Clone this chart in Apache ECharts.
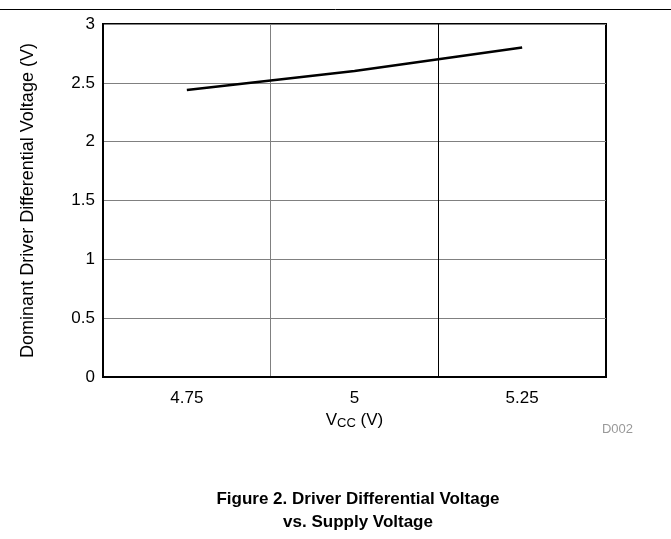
<!DOCTYPE html>
<html><head><meta charset="utf-8">
<script src="https://cdn.jsdelivr.net/npm/echarts@6/dist/echarts.min.js"></script>
<style>html,body{margin:0;padding:0;background:#fff}#c{width:671px;height:539px}</style>
</head><body><div id="c"></div>
<script>
var categories = ['4.75', '5', '5.25'];
var voltage = [2.44, 2.6, 2.8];
var yTicks = [0, 0.5, 1, 1.5, 2, 2.5, 3];

var chart = echarts.init(document.getElementById('c'), null, {renderer: 'canvas'});
var font = 'Liberation Sans, Arial, sans-serif';
chart.setOption({
  animation: false,
  grid: {left: 103, right: 65, top: 24, bottom: 162, show: true, borderColor: '#000', borderWidth: 2},
  xAxis: {
    type: 'category', data: categories, boundaryGap: true,
    axisLine: {lineStyle: {color: '#000', width: 2}},
    axisTick: {show: false},
    axisLabel: {color: '#000', fontSize: 17, fontFamily: font, margin: 13},
    splitLine: {show: true, lineStyle: {color: ['#808080', '#808080', '#000', '#000'], width: 1}},
    name: 'V{s|CC} (V)', nameLocation: 'middle', nameGap: 32,
    nameTextStyle: {color: '#000', fontSize: 17, fontFamily: font,
      rich: {s: {fontSize: 13, fontFamily: font, color: '#000', verticalAlign: 'bottom', padding: [7, 0, 0, 0]}}}
  },
  yAxis: {
    type: 'value', min: yTicks[0], max: yTicks[yTicks.length - 1], interval: 0.5,
    axisLine: {show: true, lineStyle: {color: '#000', width: 2}},
    axisTick: {show: false},
    axisLabel: {color: '#000', fontSize: 17, fontFamily: font, margin: 8},
    splitLine: {show: true, lineStyle: {color: '#808080', width: 1}},
    name: 'Dominant Driver Differential Voltage (V)', nameLocation: 'middle', nameGap: 66,
    nameTextStyle: {color: '#000', fontSize: 18, fontFamily: font}
  },
  series: [{
    type: 'line', data: voltage, symbol: 'none',
    lineStyle: {color: '#000', width: 2.5}
  }],
  graphic: [
    {type: 'line', shape: {x1: 0, y1: 9.5, x2: 671, y2: 9.5}, style: {stroke: '#000', lineWidth: 1}},
    {type: 'text', x: 633, y: 429, style: {text: 'D002', fill: '#999', fontSize: 13, fontFamily: font, textAlign: 'right', textVerticalAlign: 'middle'}},
    {type: 'text', x: 358, y: 488, style: {text: 'Figure 2. Driver Differential Voltage\nvs. Supply Voltage', fill: '#000', fontSize: 17, fontWeight: 'bold', fontFamily: font, textAlign: 'center', lineHeight: 23}}
  ]
});
</script></body></html>
